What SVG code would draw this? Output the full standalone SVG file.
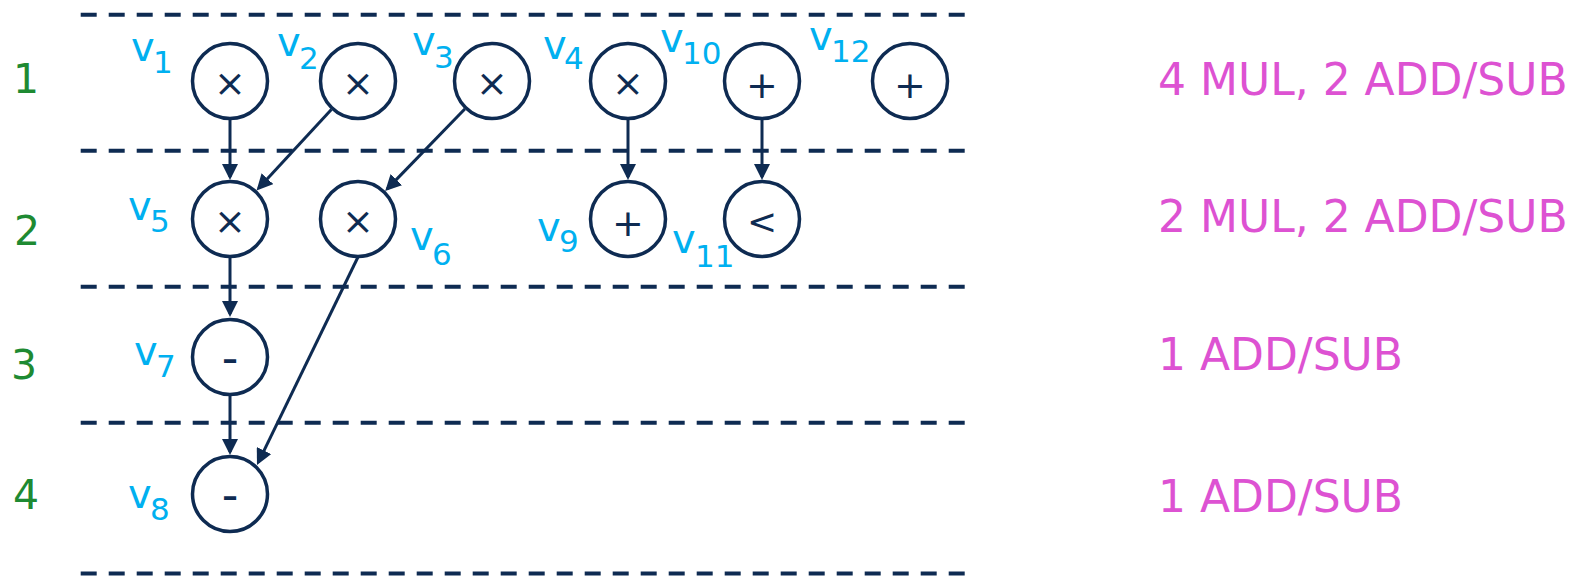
<svg xmlns="http://www.w3.org/2000/svg" width="1575" height="576" viewBox="0 0 1575 576">
<style>
text{font-family:"DejaVu Sans","Verdana",sans-serif}
.dash{stroke:#0E2B52;stroke-width:4;stroke-dasharray:16 12;fill:none}
.node circle{fill:#fff;stroke:#0E2B52;stroke-width:3.5}
.op{font-size:38px;fill:#0E2B52;text-anchor:middle}
.lt{font-size:36px;fill:#0E2B52;text-anchor:middle}
.hy{font-size:46px;fill:#0E2B52;text-anchor:middle}
.v{font-size:40px;fill:#00B0F0}
.s{font-size:31px;fill:#00B0F0}
.lvl{font-size:41px;fill:#1E8A32;text-anchor:middle}
.res{font-size:44px;fill:#DD52D2}
.edge{stroke:#0E2B52;stroke-width:3;fill:none;marker-end:url(#ah)}
</style>
<defs>
<marker id="ah" markerUnits="userSpaceOnUse" markerWidth="16" markerHeight="16" refX="13" refY="8" orient="auto">
<path d="M0,0 L16,8 L0,16 z" fill="#0E2B52"/>
</marker>
</defs>
<rect width="1575" height="576" fill="#fff"/>
<g id="levels">
<line class="dash" x1="80.7" y1="14.7" x2="965" y2="14.7"/>
<line class="dash" x1="80.7" y1="150.7" x2="965" y2="150.7"/>
<line class="dash" x1="80.7" y1="286.7" x2="965" y2="286.7"/>
<line class="dash" x1="80.7" y1="422.7" x2="965" y2="422.7"/>
<line class="dash" x1="80.7" y1="573.5" x2="965" y2="573.5"/>
<text class="lvl" x="26" y="93">1</text>
<text class="lvl" x="27" y="245">2</text>
<text class="lvl" x="24" y="379">3</text>
<text class="lvl" x="26" y="509">4</text>
</g>
<g id="connectors">
<line class="edge" x1="230" y1="119" x2="230" y2="177"/>
<line class="edge" x1="331.4" y1="109.6" x2="258.6" y2="188.2"/>
<line class="edge" x1="464.8" y1="109" x2="387.3" y2="188.9"/>
<line class="edge" x1="230" y1="257" x2="230" y2="314"/>
<line class="edge" x1="358" y1="257" x2="258.3" y2="462.3"/>
<line class="edge" x1="230" y1="395" x2="230" y2="452"/>
<line class="edge" x1="628" y1="119" x2="628" y2="177"/>
<line class="edge" x1="762" y1="119" x2="762" y2="177"/>
</g>
<g id="v1" class="node"><circle cx="230" cy="81" r="37.5"/><text class="op" x="230" y="96">×</text><text class="v" x="131" y="61">v</text><text class="s" x="153" y="73">1</text></g>
<g id="v2" class="node"><circle cx="358" cy="81" r="37.5"/><text class="op" x="358" y="96">×</text><text class="v" x="277" y="56">v</text><text class="s" x="299" y="69">2</text></g>
<g id="v3" class="node"><circle cx="492" cy="81" r="37.5"/><text class="op" x="492" y="96">×</text><text class="v" x="412" y="55">v</text><text class="s" x="434" y="68">3</text></g>
<g id="v4" class="node"><circle cx="628" cy="81" r="37.5"/><text class="op" x="628" y="96">×</text><text class="v" x="543" y="59">v</text><text class="s" x="564" y="69">4</text></g>
<g id="v10" class="node"><circle cx="762" cy="81" r="37.5"/><text class="op" x="762" y="98">+</text><text class="v" x="660" y="52">v</text><text class="s" x="682" y="64">10</text></g>
<g id="v12" class="node"><circle cx="910" cy="81" r="37.5"/><text class="op" x="910" y="98">+</text><text class="v" x="809" y="50">v</text><text class="s" x="831" y="62">12</text></g>
<g id="v5" class="node"><circle cx="230" cy="219" r="37.5"/><text class="op" x="230" y="234">×</text><text class="v" x="128" y="220">v</text><text class="s" x="150" y="232">5</text></g>
<g id="v6" class="node"><circle cx="358" cy="219" r="37.5"/><text class="op" x="358" y="234">×</text><text class="v" x="410" y="250">v</text><text class="s" x="432" y="265">6</text></g>
<g id="v9" class="node"><circle cx="628" cy="219" r="37.5"/><text class="op" x="628" y="236">+</text><text class="v" x="537" y="241">v</text><text class="s" x="559" y="252">9</text></g>
<g id="v11" class="node"><circle cx="762" cy="219" r="37.5"/><text class="lt" x="762" y="234">&lt;</text><text class="v" x="672" y="253">v</text><text class="s" x="695" y="267">11</text></g>
<g id="v7" class="node"><circle cx="230" cy="357" r="37.5"/><text class="hy" x="230" y="374">-</text><text class="v" x="134" y="365">v</text><text class="s" x="156" y="377">7</text></g>
<g id="v8" class="node"><circle cx="230" cy="494" r="37.5"/><text class="hy" x="230" y="511">-</text><text class="v" x="128" y="508">v</text><text class="s" x="150" y="520">8</text></g>
<g id="resources">
<text class="res" x="1158" y="95">4 MUL, 2 ADD/SUB</text>
<text class="res" x="1158" y="232">2 MUL, 2 ADD/SUB</text>
<text class="res" x="1158" y="370">1 ADD/SUB</text>
<text class="res" x="1158" y="512">1 ADD/SUB</text>
</g>
</svg>
